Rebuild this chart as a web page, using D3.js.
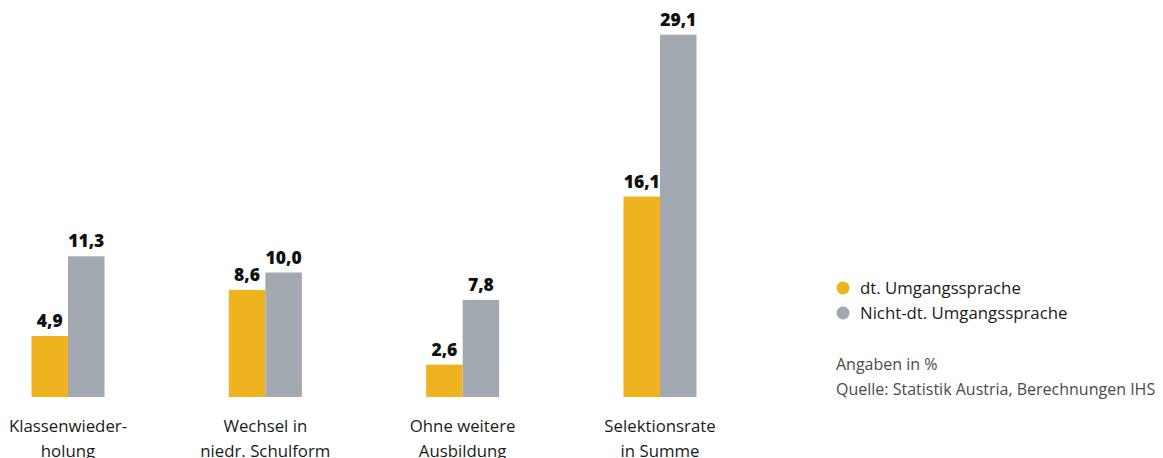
<!DOCTYPE html>
<html>
<head>
<meta charset="utf-8">
<script src="https://cdn.jsdelivr.net/npm/d3@7"></script>
<style>
  html, body { margin: 0; padding: 0; background: #fff; }
  svg { display: block; }
</style>
</head>
<body>
<svg id="chart" width="1163" height="458"></svg>
<script>
// Selection rates by language spoken at home
const categories = [
  ["Klassenwieder-", "holung"],
  ["Wechsel in", "niedr. Schulform"],
  ["Ohne weitere", "Ausbildung"],
  ["Selektionsrate", "in Summe"]
];
const seriesNames = ["dt. Umgangssprache", "Nicht-dt. Umgangssprache"];
const germanValues = [4.9, 8.6, 2.6, 16.1];
const nonGermanValues = [11.3, 10.0, 7.8, 29.1];
const colors = ["#efb320", "#a2a9b0"];
const notes = ["Angaben in %", "Quelle: Statistik Austria, Berechnungen IHS"];

const fmt = v => d3.format(".1f")(v).replace(".", ",");
const svg = d3.select("#chart");
const FONT = "'Open Sans', 'Noto Sans', sans-serif";

const baseline = 397;
const y = d3.scaleLinear().domain([0, 30]).range([baseline, baseline - 30 * 12.45]);

const keys = categories.map((c, i) => i);
const x0 = d3.scaleBand().domain(keys).range([31.5, 696.5]).paddingInner(0.63).paddingOuter(0);
const x1 = d3.scaleBand().domain([0, 1]).range([0, x0.bandwidth()]).padding(0);

const rows = keys.map(i => [germanValues[i], nonGermanValues[i]]);

const groups = svg.append("g").selectAll("g")
  .data(rows)
  .join("g")
  .attr("transform", (d, i) => `translate(${x0(i)},0)`);

groups.selectAll("rect")
  .data(d => d.map((v, s) => ({ v, s })))
  .join("rect")
  .attr("x", d => x1(d.s))
  .attr("width", x1.bandwidth())
  .attr("y", d => y(d.v))
  .attr("height", d => y(0) - y(d.v))
  .attr("fill", d => colors[d.s]);

groups.selectAll("text.val")
  .data(d => d.map((v, s) => ({ v, s })))
  .join("text")
  .attr("class", "val")
  .attr("x", d => x1(d.s) + x1.bandwidth() / 2)
  .attr("y", d => y(d.v) - 9)
  .attr("text-anchor", "middle")
  .attr("font-family", FONT)
  .attr("font-weight", 800)
  .attr("font-size", 17.5)
  .attr("fill", "#111")
  .text(d => fmt(d.v));

// Category labels below bars
const catG = svg.append("g");
categories.forEach((lines, i) => {
  const t = catG.append("text")
    .attr("x", x0(i) + x0.bandwidth() / 2)
    .attr("y", 432)
    .attr("text-anchor", "middle")
    .attr("font-family", FONT)
    .attr("font-size", 16.8)
    .attr("fill", "#1a1a1a");
  lines.forEach((ln, j) => {
    t.append("tspan")
      .attr("x", x0(i) + x0.bandwidth() / 2)
      .attr("dy", j === 0 ? 0 : 24.5)
      .text(ln);
  });
});

// Legend
const legend = svg.append("g").attr("transform", "translate(843,288)");
seriesNames.forEach((name, i) => {
  legend.append("circle")
    .attr("cx", 0).attr("cy", i * 25)
    .attr("r", 6.5)
    .attr("fill", colors[i]);
  legend.append("text")
    .attr("x", 17).attr("y", i * 25 + 6)
    .attr("font-family", FONT)
    .attr("font-size", 16.8)
    .attr("fill", "#1a1a1a")
    .text(name);
});

notes.forEach((n, i) => {
  svg.append("text")
    .attr("x", 836).attr("y", 370 + i * 25)
    .attr("font-family", FONT)
    .attr("font-size", 16)
    .attr("fill", "#4a4a4a")
    .text(n);
});
</script>
</body>
</html>
